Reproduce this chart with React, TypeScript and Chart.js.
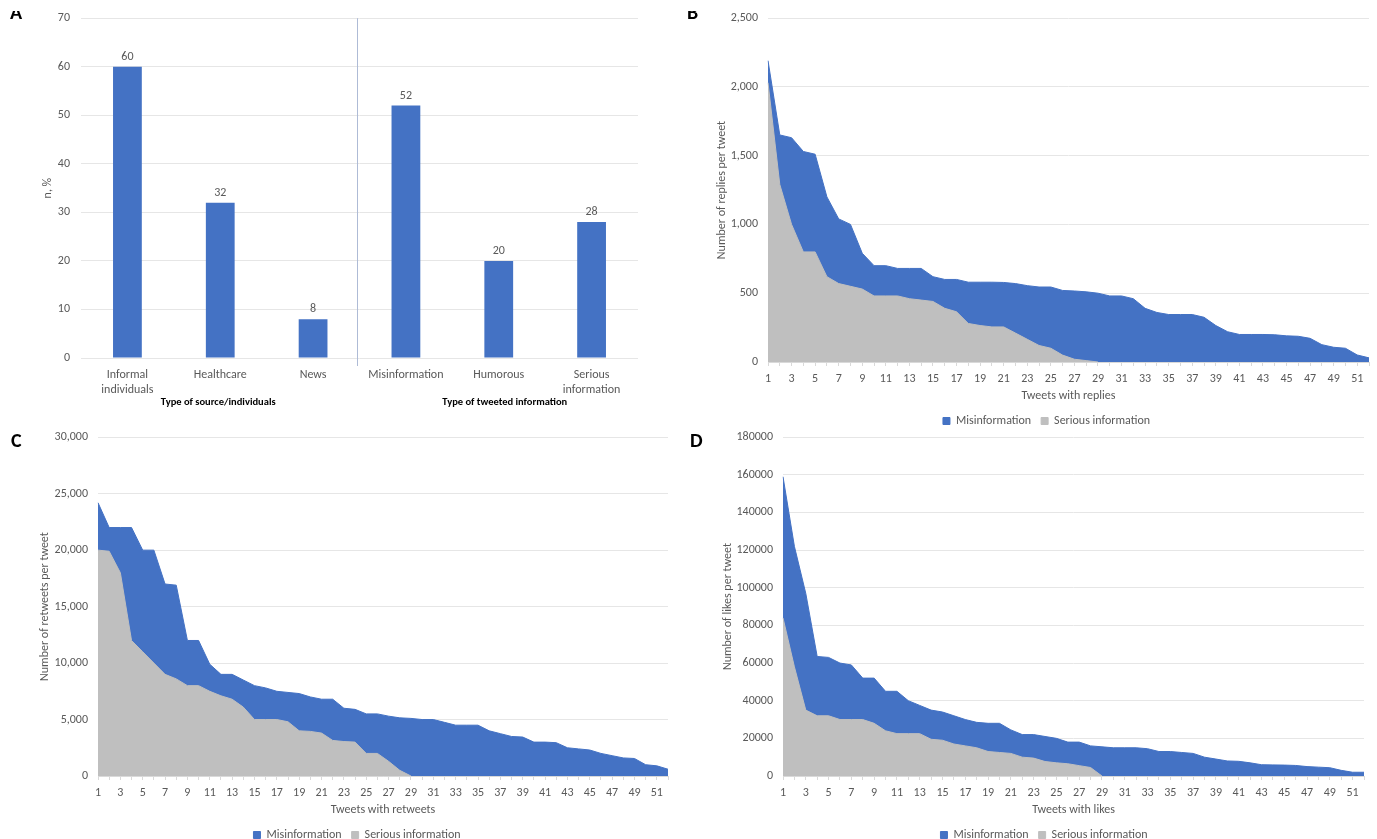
import React, { useEffect, useRef } from 'react';
import { Chart, registerables } from 'chart.js';

Chart.register(...registerables);

const FONT = 'Carlito, Calibri, "Liberation Sans Narrow", "Open Sans", sans-serif';
const BLUE = '#4472C4';
const GREY = '#BFBFBF';
const TXT = '#595959';
const GRID = '#E6E6E6';

Chart.defaults.font.family = FONT;
Chart.defaults.color = TXT;

// ---------- Panel A ----------
const sourceCategories = [['Informal', 'individuals'], 'Healthcare', 'News', 'Misinformation', 'Humorous', ['Serious', 'information']];
const sourceValues = [60, 32, 8, 52, 20, 28];
const groupLabels = ['Type of source/individuals', 'Type of tweeted information'];
const yTicksA = [0, 10, 20, 30, 40, 50, 60, 70];

// ---------- Panels B, C, D ----------
const tweetLabels = ['1', '2', '3', '4', '5', '6', '7', '8', '9', '10', '11', '12', '13', '14', '15', '16', '17', '18', '19', '20', '21', '22', '23', '24', '25', '26', '27', '28', '29', '30', '31', '32', '33', '34', '35', '36', '37', '38', '39', '40', '41', '42', '43', '44', '45', '46', '47', '48', '49', '50', '51', '52'];

const repliesMisinformation = [2190, 1650, 1630, 1530, 1510, 1200, 1040, 1000, 790, 700, 700, 680, 680, 680, 620, 600, 600, 580, 580, 580, 578, 570, 555, 545, 545, 520, 516, 510, 500, 480, 480, 460, 390, 360, 345, 345, 345, 325, 265, 220, 200, 200, 200, 198, 190, 187, 172, 126, 107, 100, 51, 30];
const repliesSerious = [2030, 1290, 1000, 800, 800, 620, 570, 550, 530, 480, 480, 480, 460, 450, 440, 390, 365, 280, 265, 255, 255, 210, 165, 120, 100, 50, 20, 10, 0];

const retweetsMisinformation = [24200, 22000, 22000, 22000, 20000, 20000, 17000, 16900, 12000, 12000, 9900, 9000, 9000, 8500, 8000, 7800, 7500, 7400, 7300, 7000, 6800, 6800, 6000, 5900, 5500, 5500, 5300, 5150, 5100, 5000, 5000, 4750, 4500, 4500, 4500, 4000, 3750, 3500, 3450, 3000, 3000, 2950, 2500, 2400, 2300, 2000, 1800, 1600, 1550, 1000, 900, 600];
const retweetsSerious = [20000, 19900, 18000, 12000, 11000, 10000, 9000, 8600, 8000, 8000, 7500, 7100, 6800, 6100, 5000, 5000, 5000, 4800, 4000, 3950, 3800, 3150, 3050, 3000, 2000, 2000, 1300, 500, 0];

const likesMisinformation = [159000, 122000, 97000, 63500, 63000, 60000, 59000, 52000, 52000, 45000, 45000, 40000, 37500, 35000, 34000, 32000, 30000, 28500, 28000, 28000, 24500, 22000, 22000, 21000, 20000, 18000, 18000, 16000, 15500, 15000, 15000, 15000, 14500, 13000, 13000, 12500, 12000, 10000, 9000, 8000, 7800, 7000, 6000, 5900, 5800, 5600, 5000, 4700, 4400, 3000, 2000, 2000];
const likesSerious = [84000, 58000, 35000, 32000, 32000, 30000, 30000, 30000, 28000, 24000, 22500, 22500, 22500, 19500, 19000, 17000, 16000, 15000, 13000, 12500, 12000, 10000, 9500, 7700, 7000, 6500, 5500, 4500, 0];

const seriesNames = ['Misinformation', 'Serious information'];

function BarPanel() {
  const ref = useRef<HTMLCanvasElement>(null);
  useEffect(() => {
    const extras = {
      id: 'barExtras',
      beforeDatasetsDraw(chart: any) {
        const { ctx, chartArea } = chart;
        const xs = chart.scales.x;
        const sepX = Math.round((xs.getPixelForTick(2) + xs.getPixelForTick(3)) / 2) - 2.5;
        ctx.save();
        ctx.strokeStyle = '#AEBBD6';
        ctx.lineWidth = 1;
        ctx.beginPath();
        ctx.moveTo(sepX, chartArea.top);
        ctx.lineTo(sepX, chartArea.bottom + 8);
        ctx.stroke();
        ctx.restore();
      },
      afterDatasetsDraw(chart: any) {
        const { ctx } = chart;
        const meta = chart.getDatasetMeta(0);
        ctx.save();
        ctx.font = `12px ${FONT}`;
        ctx.fillStyle = TXT;
        ctx.textAlign = 'center';
        ctx.textBaseline = 'middle';
        meta.data.forEach((el: any, i: number) => {
          ctx.fillText(String(sourceValues[i]), el.x, el.y - 10);
        });
        const xs = chart.scales.x;
        ctx.font = `bold 10.5px ${FONT}`;
        ctx.fillStyle = '#000000';
        ctx.fillText(groupLabels[0], xs.getPixelForTick(1) - 2, 402);
        ctx.fillText(groupLabels[1], xs.getPixelForTick(4) + 6, 402);
        ctx.restore();
      },
    };
    const chart = new Chart(ref.current!, {
      type: 'bar',
      data: {
        labels: sourceCategories as any,
        datasets: [{ data: sourceValues, backgroundColor: BLUE, barPercentage: 0.31, categoryPercentage: 1 }],
      },
      options: {
        animation: false,
        responsive: false,
        devicePixelRatio: 1,
        layout: { padding: { top: 17, right: 52, left: 0, bottom: 0 } },
        plugins: { legend: { display: false }, tooltip: { enabled: false } },
        scales: {
          x: {
            grid: { display: false },
            border: { display: false },
            ticks: { font: { size: 12 }, color: TXT, padding: 2, maxRotation: 0, autoSkip: false },
            afterFit: (s: any) => { s.height = 57; },
          },
          y: {
            min: 0,
            max: 70,
            afterBuildTicks: (s: any) => { s.ticks = yTicksA.map((v) => ({ value: v })); },
            grid: { color: GRID, drawTicks: false, tickLength: 0 },
            border: { display: false },
            ticks: { font: { size: 12 }, color: TXT, padding: 11 },
            title: { display: true, text: 'n, %', font: { size: 12 }, color: TXT, padding: { top: 41, bottom: 0 } },
            afterFit: (s: any) => { s.width = 81; },
          },
        },
      },
      plugins: [extras],
    });
    return () => chart.destroy();
  }, []);
  return <canvas ref={ref} width={690} height={415} style={{ position: 'absolute', left: 0, top: 0 }} />;
}

type AreaProps = {
  left: number; top: number; width: number; height: number;
  mis: number[]; ser: number[];
  yMax: number; yStep: number; comma: boolean;
  yTitle: string; xTitle: string;
  yWidth: number; yTitlePad: number; padTop: number; padRight: number;
  legendH: number; xHeight: number; legendShift: number;
};

function AreaPanel(p: AreaProps) {
  const ref = useRef<HTMLCanvasElement>(null);
  useEffect(() => {
    const shiftLegend = {
      id: 'shiftLegend',
      afterLayout(chart: any) {
        if (chart.legend) {
          chart.legend.left += p.legendShift;
          chart.legend.right += p.legendShift;
        }
      },
    };
    const chart = new Chart(ref.current!, {
      type: 'line',
      data: {
        labels: tweetLabels,
        datasets: [
          { label: seriesNames[0], data: p.mis, fill: 'origin', backgroundColor: BLUE, borderColor: BLUE, borderWidth: 1, pointRadius: 0, tension: 0, order: 1 },
          { label: seriesNames[1], data: p.ser, fill: 'origin', backgroundColor: GREY, borderColor: GREY, borderWidth: 1, pointRadius: 0, tension: 0, order: 0 },
        ],
      },
      options: {
        animation: false,
        responsive: false,
        devicePixelRatio: 1,
        layout: { padding: { top: p.padTop, right: p.padRight, left: 0, bottom: 0 } },
        plugins: {
          tooltip: { enabled: false },
          legend: {
            position: 'bottom',
            maxHeight: p.legendH,
            labels: {
              boxWidth: 7, boxHeight: 7, padding: 10, color: TXT,
              font: { size: 12 },
              sort: (a: any, b: any) => a.datasetIndex - b.datasetIndex,
            },
          },
        },
        scales: {
          x: {
            type: 'category',
            offset: false,
            grid: { display: true, drawOnChartArea: false, drawTicks: true, tickLength: 4, color: '#D9D9D9' },
            border: { display: true, color: '#D9D9D9' },
            ticks: {
              autoSkip: false, maxRotation: 0, minRotation: 0, padding: 6, font: { size: 12 }, color: TXT,
              callback: (_v: any, i: number) => (i % 2 === 0 ? tweetLabels[i] : ''),
            },
            title: { display: true, text: p.xTitle, font: { size: 12 }, color: TXT, padding: { top: 0, bottom: 2 } },
            afterFit: (s: any) => { s.height = p.xHeight; },
          },
          y: {
            min: 0,
            max: p.yMax,
            grid: { color: GRID, drawTicks: false, tickLength: 0 },
            border: { display: false },
            ticks: {
              stepSize: p.yStep, padding: 10, font: { size: 12 }, color: TXT,
              callback: (v: any) => (p.comma ? Number(v).toLocaleString('en-US') : String(v)),
            },
            title: { display: true, text: p.yTitle, font: { size: 12 }, color: TXT, padding: { top: p.yTitlePad, bottom: 0 } },
            afterFit: (s: any) => { s.width = p.yWidth; },
          },
        },
      },
      plugins: [shiftLegend],
    });
    return () => chart.destroy();
  }, []);
  return <canvas ref={ref} width={p.width} height={p.height} style={{ position: 'absolute', left: p.left, top: p.top }} />;
}

const letterStyle: React.CSSProperties = {
  position: 'absolute', fontFamily: FONT, fontWeight: 'bold', fontSize: 20, color: '#000', lineHeight: '20px',
};

function ClippedLetter(props: { text: string; left: number }) {
  return (
    <div style={{ position: 'absolute', left: props.left, top: 11, width: 16, height: 8, overflow: 'hidden' }}>
      <div style={{ ...letterStyle, left: 0, top: -9 }}>{props.text}</div>
    </div>
  );
}

export default function App() {
  return (
    <div style={{ position: 'absolute', left: 0, top: 0, width: 1377, height: 839, overflow: 'hidden', background: '#fff' }}>
      <BarPanel />
      <AreaPanel left={690} top={0} width={687} height={430} mis={repliesMisinformation} ser={repliesSerious}
        yMax={2500} yStep={500} comma={true} yTitle="Number of replies per tweet" xTitle="Tweets with replies"
        yWidth={78} yTitlePad={25} padTop={18} padRight={8} legendH={25} xHeight={43} legendShift={17} />
      <AreaPanel left={0} top={420} width={690} height={419} mis={retweetsMisinformation} ser={retweetsSerious}
        yMax={30000} yStep={5000} comma={true} yTitle="Number of retweets per tweet" xTitle="Tweets with retweets"
        yWidth={98} yTitlePad={38} padTop={17} padRight={22} legendH={20} xHeight={43} legendShift={23} />
      <AreaPanel left={690} top={420} width={687} height={419} mis={likesMisinformation} ser={likesSerious}
        yMax={180000} yStep={20000} comma={false} yTitle="Number of likes per tweet" xTitle="Tweets with likes"
        yWidth={93} yTitlePad={31} padTop={17} padRight={13} legendH={20} xHeight={43} legendShift={17} />
      <ClippedLetter text="A" left={10} />
      <ClippedLetter text="B" left={687} />
      <div style={{ ...letterStyle, left: 11, top: 430 }}>C</div>
      <div style={{ ...letterStyle, left: 690, top: 430 }}>D</div>
    </div>
  );
}
